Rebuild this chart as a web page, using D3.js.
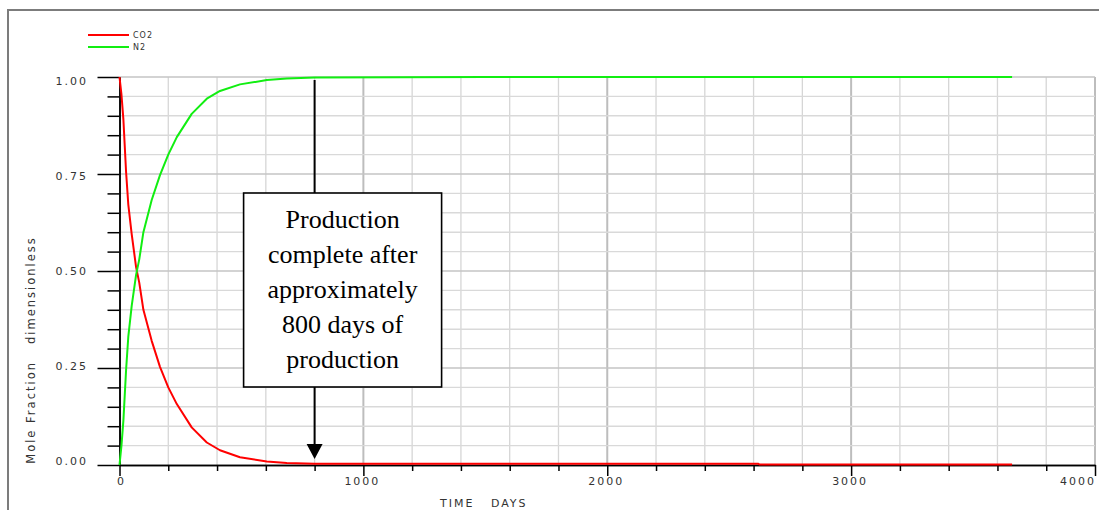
<!DOCTYPE html>
<html>
<head>
<meta charset="utf-8">
<script src="https://cdn.jsdelivr.net/npm/d3@7"></script>
<style>
  html, body { margin: 0; padding: 0; background: #fff; }
  svg { display: block; }
  .sans { font-family: "DejaVu Sans", sans-serif; }
  .serif { font-family: "Liberation Serif", "Times New Roman", serif; }
</style>
</head>
<body>
<svg id="chart" width="1099" height="510"></svg>
<script>
// Mole fraction of produced gas over time
const days = [0, 8, 16, 27, 36, 50, 68, 81, 98, 132, 166, 200, 235, 296, 358, 412, 494, 604, 686, 800, 1500, 2620, 2625, 3660];
const co2  = [1.0, 0.955, 0.89, 0.755, 0.672, 0.595, 0.51, 0.47, 0.40, 0.32, 0.253, 0.20, 0.157, 0.097, 0.058, 0.038, 0.020, 0.009, 0.005, 0.003, 0.003, 0.003, 0.001, 0.001];
const n2   = [0.0, 0.05, 0.115, 0.245, 0.33, 0.41, 0.49, 0.53, 0.60, 0.683, 0.747, 0.80, 0.845, 0.905, 0.944, 0.964, 0.981, 0.992, 0.996, 0.999, 1.0, 1.0, 1.0, 1.0];

const seriesNames  = ["CO2", "N2"];
const seriesColors = ["#ff0000", "#11ee11"];

const xTickValues = [0, 1000, 2000, 3000, 4000];
const xTickLabels = ["0", "1000", "2000", "3000", "4000"];
const yTickValues = [0, 0.25, 0.5, 0.75, 1.0];
const yTickLabels = ["0.00", "0.25", "0.50", "0.75", "1.00"];

const xTitle = "TIME   DAYS";
const yTitle = "Mole Fraction   dimensionless";

const noteDay = 800;
const noteLines = ["Production", "complete after", "approximately", "800 days of", "production"];

const svg = d3.select("#chart");

const x = d3.scaleLinear().domain([0, 4000]).range([119.5, 1095]);
const y = d3.scaleLinear().domain([0, 1]).range([465, 77]);
// tick labels sit on a slightly tighter spread than the ticks
const yLabel = d3.scaleLinear().domain([0, 1]).range([y(0) - 4, y(1) + 4]);

// outer frame
svg.append("rect")
  .attr("x", 8).attr("y", 10)
  .attr("width", 1200).attr("height", 600)
  .attr("fill", "none").attr("stroke", "#7c7c7c").attr("stroke-width", 2);

// grid
const xGrid = d3.range(1, 21).map(i => i * 200);
const yGrid = d3.range(1, 21).map(i => i / 20);
const isQuarter = d => Math.abs(d * 4 - Math.round(d * 4)) < 1e-6;
const grid = svg.append("g");
grid.selectAll("line.gx").data(xGrid).join("line")
  .attr("x1", d => x(d)).attr("x2", d => x(d))
  .attr("y1", y(0)).attr("y2", y(1))
  .attr("stroke", d => d % 1000 === 0 ? "#bdbdbd" : "#d6d6d6")
  .attr("stroke-width", d => d % 1000 === 0 ? 2 : 1.3);
grid.selectAll("line.gy").data(yGrid).join("line")
  .attr("x1", x(0)).attr("x2", x(4000))
  .attr("y1", d => y(d)).attr("y2", d => y(d))
  .attr("stroke", d => isQuarter(d) ? "#c4c4c4" : "#d9d9d9")
  .attr("stroke-width", 1.4);

// axes
const yMinor = d3.range(0, 21).map(i => i / 20).filter(d => !isQuarter(d));
const xMinor = d3.range(0, 21).map(i => i * 200).filter(d => d % 1000 !== 0);

function styleAxis(g) {
  g.selectAll("path, line").attr("stroke", "#000").attr("stroke-width", 1.5);
  g.selectAll("text").remove();
}

svg.append("g").attr("transform", `translate(${x(0)},0)`)
  .call(d3.axisLeft(y).tickValues(yMinor).tickSize(12).tickSizeOuter(0).tickFormat(""))
  .call(styleAxis);
svg.append("g").attr("transform", `translate(${x(0)},0)`)
  .call(d3.axisLeft(y).tickValues(yTickValues).tickSize(22).tickSizeOuter(0).tickFormat(""))
  .call(styleAxis);
svg.append("g").attr("transform", `translate(0,${y(0)})`)
  .call(d3.axisBottom(x).tickValues(xMinor).tickSize(6).tickSizeOuter(0).tickFormat(""))
  .call(styleAxis);
svg.append("g").attr("transform", `translate(0,${y(0)})`)
  .call(d3.axisBottom(x).tickValues(xTickValues).tickSize(11).tickSizeOuter(0).tickFormat(""))
  .call(styleAxis);

// tick labels
svg.append("g").selectAll("text").data(yTickValues).join("text")
  .attr("class", "sans")
  .attr("x", 88).attr("y", d => yLabel(d))
  .attr("dy", "0.36em")
  .attr("text-anchor", "end")
  .attr("font-size", 11).attr("letter-spacing", 2).attr("fill", "#333")
  .text((d, i) => yTickLabels[i]);

svg.append("g").selectAll("text").data(xTickValues).join("text")
  .attr("class", "sans")
  .attr("x", (d, i) => i === xTickValues.length - 1 ? x(d) + 1 : x(d) + (i === 0 ? 2 : -1))
  .attr("y", 485)
  .attr("text-anchor", (d, i) => i === xTickValues.length - 1 ? "end" : "middle")
  .attr("font-size", 11).attr("letter-spacing", 2).attr("fill", "#333")
  .text((d, i) => xTickLabels[i]);

// axis titles
svg.append("text")
  .attr("class", "sans")
  .attr("x", 440).attr("y", 507)
  .attr("font-size", 11).attr("letter-spacing", 2).attr("fill", "#333")
  .style("white-space", "pre")
  .text(xTitle);

svg.append("text")
  .attr("class", "sans")
  .attr("transform", `translate(35,350) rotate(-90)`)
  .attr("text-anchor", "middle")
  .attr("font-size", 11.5).attr("letter-spacing", 2).attr("fill", "#333")
  .style("white-space", "pre")
  .text(yTitle);

// series
const series = [co2, n2];
const line = d3.line().x(d => x(d[0])).y(d => y(d[1]));
svg.append("g").selectAll("path").data(series).join("path")
  .attr("d", vals => line(days.map((t, i) => [t, vals[i]])))
  .attr("fill", "none")
  .attr("stroke", (d, i) => seriesColors[i])
  .attr("stroke-width", 2)
  .attr("stroke-linejoin", "round");

// legend
const legend = svg.append("g");
seriesNames.forEach((name, i) => {
  const ly = 35 + i * 12;
  legend.append("line")
    .attr("x1", 88).attr("x2", 129).attr("y1", ly).attr("y2", ly)
    .attr("stroke", seriesColors[i]).attr("stroke-width", 1.8);
  legend.append("text")
    .attr("class", "sans")
    .attr("x", 133).attr("y", ly).attr("dy", "0.35em")
    .attr("font-size", 8).attr("letter-spacing", 1).attr("fill", "#333")
    .text(name);
});

// annotation
const ax = x(noteDay);
const boxLeft = ax - 71, boxTop = 193, boxW = 198, boxH = 194;
const note = svg.append("g");
note.append("line")
  .attr("x1", ax).attr("x2", ax).attr("y1", y(1) + 3).attr("y2", boxTop)
  .attr("stroke", "#000").attr("stroke-width", 2);
note.append("line")
  .attr("x1", ax).attr("x2", ax).attr("y1", boxTop + boxH).attr("y2", y(0) - 20)
  .attr("stroke", "#000").attr("stroke-width", 2);
note.append("path")
  .attr("d", `M${ax - 8},${y(0) - 21} L${ax + 8},${y(0) - 21} L${ax},${y(0) - 6} Z`)
  .attr("fill", "#000");
note.append("rect")
  .attr("x", boxLeft).attr("y", boxTop).attr("width", boxW).attr("height", boxH)
  .attr("fill", "#fff").attr("stroke", "#000").attr("stroke-width", 1.6);
note.selectAll("text").data(noteLines).join("text")
  .attr("class", "serif")
  .attr("x", boxLeft + boxW / 2)
  .attr("y", (d, i) => boxTop + 35 + i * 35)
  .attr("text-anchor", "middle")
  .attr("font-size", 26)
  .attr("fill", "#000")
  .text(d => d);
</script>
</body>
</html>
